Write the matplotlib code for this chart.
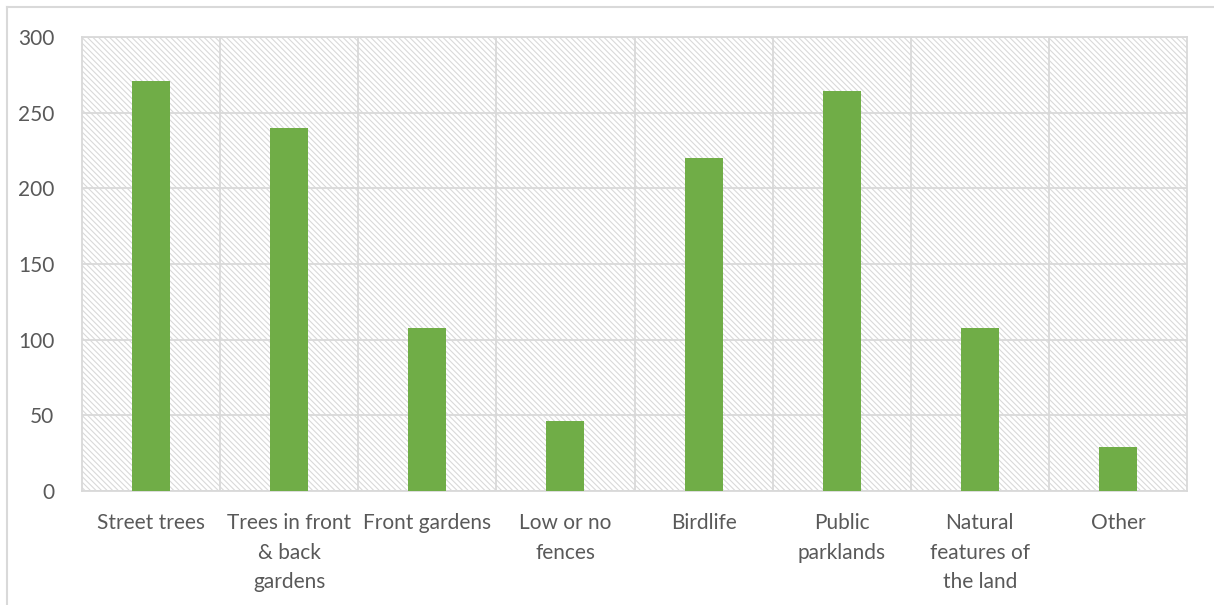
import matplotlib.pyplot as plt
from matplotlib.patches import Rectangle
from matplotlib.lines import Line2D
import numpy as np

# Features people value in their neighbourhood
categories = ['Street trees', 'Trees in front\n& back\ngardens', 'Front gardens',
              'Low or no\nfences', 'Birdlife', 'Public\nparklands',
              'Natural\nfeatures of\nthe land', 'Other']
counts = [271, 240, 108, 46, 220, 264, 108, 29]
y_ticks = [0, 50, 100, 150, 200, 250, 300]

plt.rcParams['font.family'] = ['Lato', 'DejaVu Sans']
plt.rcParams['hatch.linewidth'] = 0.8
grid_col = '#d9d9d9'
text_col = '#595959'

fig = plt.figure(figsize=(12.14, 6.05), dpi=100)
W, H = 1214, 605
ax = fig.add_axes([82 / W, 1 - 491 / H, 1105 / W, 454 / H])

# hatched plot area background (diagonal lines, top-left to bottom-right)
bg = Rectangle((0, 0), 1, 1, transform=ax.transAxes, facecolor='white',
               edgecolor='#d9d9d9', hatch=chr(92) * 6, linewidth=0, zorder=0)
ax.add_patch(bg)

x = np.arange(len(categories))
ax.bar(x, counts, width=0.275, color='#70ad47', zorder=3)

ax.set_xlim(-0.5, len(categories) - 0.5)
ax.set_ylim(0, 300)
ax.set_yticks(y_ticks)
ax.set_xticks(x)
ax.set_xticklabels(categories, linespacing=1.6)

# grid lines: horizontal at ticks, vertical between categories
for v in y_ticks:
    ax.axhline(v, color=grid_col, linewidth=1.3, zorder=1)
for b in np.arange(0.5, len(categories) - 1, 1):
    ax.axvline(b, color=grid_col, linewidth=1.3, zorder=1)

for s in ax.spines.values():
    s.set_color(grid_col)
    s.set_linewidth(1.3)
    s.set_zorder(2)

ax.tick_params(axis='both', length=0, labelsize=15, colors=text_col)
ax.tick_params(axis='x', pad=16)
ax.tick_params(axis='y', pad=20)

# chart frame
fig.add_artist(Line2D([7 / W, 7 / W], [0, 1 - 7 / H], color=grid_col, linewidth=1.5))
fig.add_artist(Line2D([7 / W, 1], [1 - 7 / H, 1 - 7 / H], color=grid_col, linewidth=1.5))

fig.savefig('out.png', dpi=100, facecolor='white')
